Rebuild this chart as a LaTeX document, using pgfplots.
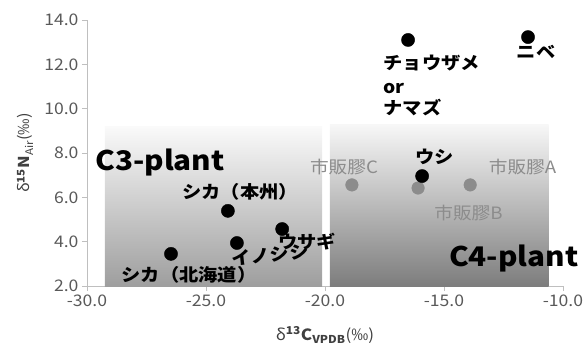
\documentclass[border=0pt]{standalone}
\usepackage{pgfplots}
\pgfplotsset{compat=1.18}
\usepackage{fontspec}
\setmainfont{Noto Sans CJK JP}[FakeStretch=1.1]
\definecolor{tickgray}{HTML}{595959}
\definecolor{axgray}{HTML}{BFBFBF}
\definecolor{ptgray}{HTML}{8C8C8C}
\definecolor{labgray}{HTML}{404040}
\begin{document}
\begin{tikzpicture}
\begin{axis}[name=ax, at={(0,0)}, anchor=south west,
  scale only axis, width=476pt, height=266pt,
  xmin=-30, xmax=-10, ymin=2, ymax=14,
  axis x line=bottom, axis y line=left,
  axis line style={-, draw=axgray},
  tick style={draw=axgray, line width=0.6pt},
  tick align=outside, major tick length=5pt,
  xtick={-30,-25,-20,-15,-10}, ytick={2,4,6,8,10,12,14},
  ticklabel style={font=\fontsize{16}{16}\selectfont, text=tickgray},
  /pgf/number format/.cd, fixed, fixed zerofill, precision=1, assume math mode=true,
  /pgfplots/.cd,
  clip=false,
  xlabel={δ\textsuperscript{\bfseries 13}\textbf{C}\textsubscript{\bfseries VPDB}(‰)},
  ylabel={δ\textsuperscript{\bfseries 15}\textbf{N}\textsubscript{Air}(‰)},
  xlabel style={at={(rel axis cs:0.5,-0.184)}, anchor=center, font=\fontsize{15.5}{15.5}\selectfont, text=labgray},
  ylabel style={at={(rel axis cs:-0.13,0.5)}, anchor=center, font=\fontsize{15}{15}\selectfont, text=labgray},
]
% C3 / C4 regions
\addplot[draw=none, top color=white!98!black, bottom color=white!62!black]
  coordinates {(-29.25,2) (-20.12,2) (-20.12,9.2) (-29.25,9.2)} -- cycle;
\addplot[draw=none, top color=white!97!black, bottom color=white!49!black]
  coordinates {(-19.8,2) (-10.6,2) (-10.6,9.3) (-19.8,9.3)} -- cycle;
% commercial glue (gray)
\addplot[only marks, mark=*, mark size=6.3pt, color=ptgray]
  coordinates {(-18.87,6.56) (-16.09,6.42) (-13.9,6.56)};
% animals (black)
\addplot[only marks, mark=*, mark size=6.6pt, color=black]
  coordinates {(-16.51,13.1) (-11.47,13.23) (-15.92,6.96) (-24.08,5.39) (-21.8,4.57) (-23.7,3.94) (-26.47,3.45)};
% labels
\node[font=\fontsize{27}{27}\selectfont\bfseries, anchor=west] at (axis cs:-29.8,7.55) {C3-plant};
\node[font=\fontsize{27}{27}\selectfont\bfseries, anchor=east] at (axis cs:-9.2,3.26) {C4-plant};
\begin{scope}[font=\fontsize{17.5}{17.5}\selectfont\bfseries]
\node at (axis cs:-23.57,6.24) {シカ（本州）};
\node at (axis cs:-20.75,4.02) {ウサギ};
\node[rotate=6] at (axis cs:-22.3,3.42) {イノシシ};
\node at (axis cs:-25.71,2.5) {シカ（北海道）};
\node[anchor=west] at (axis cs:-17.69,12.06) {チョウザメ};
\node[anchor=west] at (axis cs:-17.69,10.93) {or};
\node[anchor=west] at (axis cs:-17.69,10.03) {ナマズ};
\node at (axis cs:-11.13,12.56) {ニベ};
\node at (axis cs:-15.4,7.82) {ウシ};
\end{scope}
\begin{scope}[font=\fontsize{17}{17}\selectfont, text=ptgray]
\node at (axis cs:-19.2,7.37) {市販膠C};
\node at (axis cs:-11.7,7.37) {市販膠A};
\node at (axis cs:-13.97,5.29) {市販膠B};
\end{scope}
\end{axis}
\pgfresetboundingbox
\path[use as bounding box] ([xshift=-87pt,yshift=-59pt]ax.south west) rectangle ([xshift=22pt,yshift=20pt]ax.north east);
\end{tikzpicture}
\end{document}
